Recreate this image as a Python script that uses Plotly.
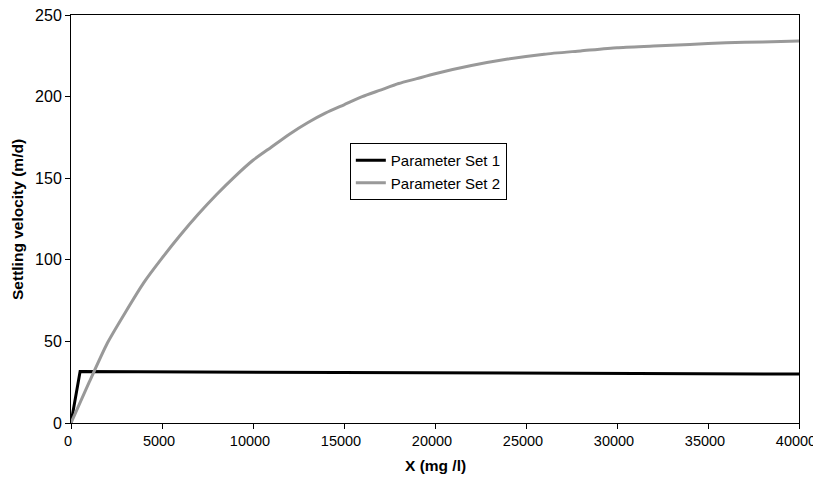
import plotly.graph_objects as go

x1 = [0, 500, 40000]
y1 = [0, 31.5, 30]

x2 = [0, 1000, 2000, 3000, 4000, 5000, 6000, 7000, 8000, 9000, 10000, 11000, 12000,
      13000, 14000, 15000, 16000, 17000, 18000, 19000, 20000, 22000, 24000, 26000,
      28000, 30000, 32000, 34000, 36000, 38000, 40000]
y2 = [0, 25, 49, 68, 86, 101, 115, 128, 140, 151, 161, 169, 177,
      184, 190, 195, 200, 204, 208, 211, 214, 219, 223, 226,
      228, 230, 231, 232, 233, 233.5, 234]

x_ticks = [0, 5000, 10000, 15000, 20000, 25000, 30000, 35000, 40000]
x_tick_labels = ["0", "5000", "10000", "15000", "20000", "25000", "30000", "35000", "40000"]
y_ticks = [0, 50, 100, 150, 200, 250]
y_tick_labels = ["0", "50", "100", "150", "200", "250"]

fig = go.Figure()
fig.add_trace(go.Scatter(x=x1, y=y1, mode="lines", name="Parameter Set 1",
                         line=dict(color="black", width=3)))
fig.add_trace(go.Scatter(x=x2, y=y2, mode="lines", name="Parameter Set 2",
                         line=dict(color="#999999", width=3, shape="spline", smoothing=0.6)))

ff = "Liberation Sans, Arial, sans-serif"
fig.update_layout(
    width=813, height=481,
    margin=dict(l=63, r=22, t=7, b=66),
    paper_bgcolor="white", plot_bgcolor="white",
    font=dict(family=ff, size=15, color="black"),
    showlegend=True,
    legend=dict(x=0.383, y=0.686, xanchor="left", yanchor="top",
                bordercolor="black", borderwidth=1, bgcolor="white",
                font=dict(size=15), tracegroupgap=0, itemwidth=30),
    xaxis=dict(range=[0, 40000], tickvals=x_ticks, ticktext=x_tick_labels, automargin=False,
               ticks="outside", ticklen=5, tickcolor="black", showgrid=False, zeroline=False,
               showline=True, linecolor="black", linewidth=1, mirror=True,
               ticklabeloverflow="allow", ticklabelshift=-3, tickfont=dict(size=14.5)),
    yaxis=dict(range=[0, 250], tickvals=y_ticks, ticktext=y_tick_labels, automargin=False,
               ticks="outside", ticklen=5, tickcolor="black", showgrid=False, zeroline=False,
               showline=True, linecolor="black", linewidth=1, mirror=True,
               ticklabeloverflow="allow", tickfont=dict(size=16)),
    annotations=[
        dict(text="<b>X (mg /l)</b>", xref="paper", yref="paper", x=0.5, y=0,
             xanchor="center", yanchor="middle", yshift=-42, showarrow=False,
             font=dict(size=15.5)),
        dict(text="<b>Settling velocity (m/d)</b>", xref="paper", yref="paper",
             x=-0.0742, y=0.5, xanchor="center", yanchor="middle", textangle=-90,
             showarrow=False, font=dict(size=15.5)),
    ],
)
fig.write_html("out.html")
